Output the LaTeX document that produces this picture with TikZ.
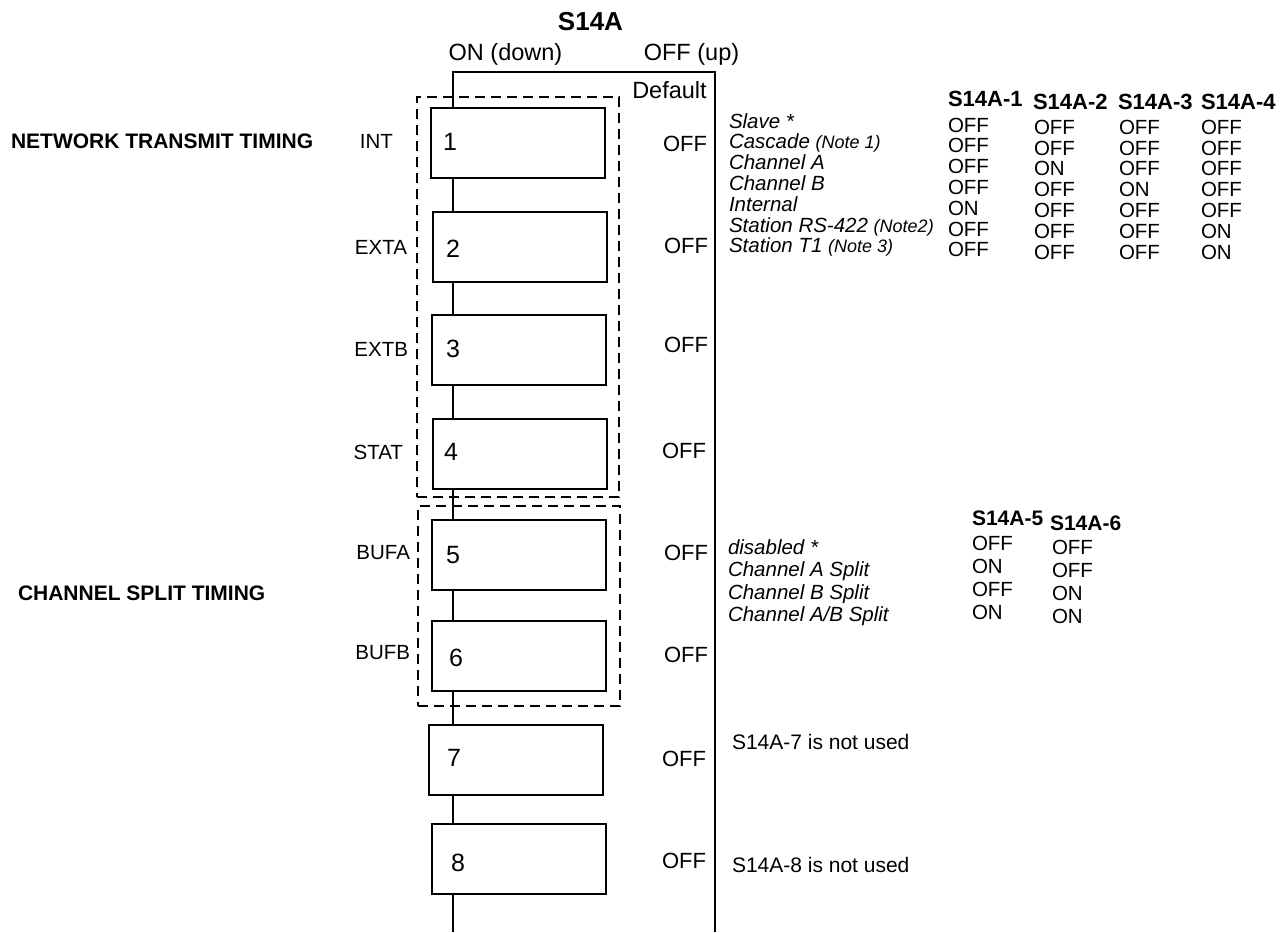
\documentclass[tikz,border=0pt]{standalone}
\usepackage{fontspec}
\setmainfont{Liberation Sans}
\newcommand{\fsz}[1]{\fontsize{#1}{#1}\selectfont}
\begin{document}
\begin{tikzpicture}[x=1pt,y=-1pt,
  ln/.style={line width=2pt},
  swbox/.style={draw, line width=2pt, fill=white, minimum width=174pt, minimum height=70pt, inner sep=0pt, outer sep=0pt},
  grp/.style={draw, line width=2pt, dash pattern=on 10pt off 6pt, inner sep=0pt, outer sep=0pt},
  txt/.style={inner sep=0pt, outer sep=0pt},
  dig/.style={txt, font=\fsz{25}},
  offr/.style={txt, anchor=base east, font=\fsz{22}},
  lft/.style={txt, anchor=east, font=\fsz{20.5}},
  sect/.style={txt, anchor=west, font=\fsz{21}\bfseries},
  hdr/.style={txt, anchor=west, font=\fsz{22}\bfseries},
  tval/.style={txt, anchor=base west, font=\fsz{20.5}},
  tlab/.style={txt, anchor=base west, font=\fsz{20.5}\itshape},
  top/.style={txt, anchor=base, font=\fsz{23.5}}
]
\useasboundingbox (0,0) rectangle (1287,932);

% dashed groups
\node[grp, minimum width=202pt, minimum height=400pt] (g1) at (518,297) {};
\node[grp, minimum width=202pt, minimum height=200pt] (g2) at (519,606) {};

% frame and spine
\coordinate (sp) at (453,72);
\coordinate (spb) at (453,932);
\coordinate (fr) at (715,72);
\coordinate (frb) at (715,932);

% switch boxes
\node[swbox] (b1) at (517.5,143) {};
\node[swbox] (b2) at (519.5,246.5) {};
\node[swbox] (b3) at (519,349.5) {};
\node[swbox] (b4) at (520,453.5) {};
\node[swbox] (b5) at (519,554.5) {};
\node[swbox] (b6) at (518.5,656) {};
\node[swbox] (b7) at (515.5,760) {};
\node[swbox] (b8) at (519,859) {};

\draw[ln] (frb) -- (fr) -- (sp) -- (sp |- b1.north);
\draw[ln] (sp |- b1.south) -- (sp |- b2.north);
\draw[ln] (sp |- b2.south) -- (sp |- b3.north);
\draw[ln] (sp |- b3.south) -- (sp |- b4.north);
\draw[ln] (sp |- b4.south) -- (sp |- b5.north);
\draw[ln] (sp |- b5.south) -- (sp |- b6.north);
\draw[ln] (sp |- b6.south) -- (sp |- b7.north);
\draw[ln] (sp |- b7.south) -- (sp |- b8.north);
\draw[ln] (sp |- b8.south) -- (spb);

% digits
\node[dig] (d1) at (450,142) {1};
\node[dig] (d2) at (453,249) {2};
\node[dig] (d3) at (453,349) {3};
\node[dig] (d4) at (451,452) {4};
\node[dig] (d5) at (453,555) {5};
\node[dig] (d6) at (456,658) {6};
\node[dig] (d7) at (454,758) {7};
\node[dig] (d8) at (458,863) {8};

% header
\node[txt, anchor=base, font=\fsz{26}\bfseries] (title) at (590.5,30.5) {S14A};
\node[top] (on) at (505.5,60.5) {ON (down)};
\node[top] (off) at (691.5,60.5) {OFF (up)};
\node[top] (def) at (669.5,98) {Default};

% default OFF column
\node[offr] (o1) at (707,151) {OFF};
\node[offr] (o2) at (708,253) {OFF};
\node[offr] (o3) at (708,352) {OFF};
\node[offr] (o4) at (706,458) {OFF};
\node[offr] (o5) at (708,560) {OFF};
\node[offr] (o6) at (708,662) {OFF};
\node[offr] (o7) at (706,766) {OFF};
\node[offr] (o8) at (706,868) {OFF};

% left labels
\node[lft] (lint) at (393,141) {INT};
\node[lft] (lexta) at (407,247) {EXTA};
\node[lft] (lextb) at (408,349) {EXTB};
\node[lft] (lstat) at (403,452) {STAT};
\node[lft] (lbufa) at (410,553) {BUFA};
\node[lft] (lbufb) at (410,653) {BUFB};

\node[sect] (ntt) at (11,141) {NETWORK TRANSMIT TIMING};
\node[sect] (cst) at (18,593) {CHANNEL SPLIT TIMING};

% table 1
\node[hdr] (h1) at (948,99) {S14A-1};
\node[hdr] (h2) at (1033,102) {S14A-2};
\node[hdr] (h3) at (1118,102) {S14A-3};
\node[hdr] (h4) at (1201,102) {S14A-4};
\foreach \lab [count=\i from 0] in {Slave *,Cascade {\fsz{18}(Note 1)},Channel A,Channel B,Internal,Station RS-422 {\fsz{18}(Note2)},Station T1 {\fsz{18}(Note 3)}}
  \node[tlab] (ta\i) at (729,{128+20.8*\i}) {\lab};
\foreach \v [count=\i from 0] in {OFF,OFF,OFF,OFF,ON,OFF,OFF}
  \node[tval] (tb\i) at (948,{132+20.8*\i}) {\v};
\foreach \v [count=\i from 0] in {OFF,OFF,ON,OFF,OFF,OFF,OFF}
  \node[tval] (tc\i) at (1034,{134.2+20.8*\i}) {\v};
\foreach \v [count=\i from 0] in {OFF,OFF,OFF,ON,OFF,OFF,OFF}
  \node[tval] (td\i) at (1119,{134.2+20.8*\i}) {\v};
\foreach \v [count=\i from 0] in {OFF,OFF,OFF,OFF,OFF,ON,ON}
  \node[tval] (te\i) at (1201,{134.2+20.8*\i}) {\v};

% table 2
\node[hdr, font=\fsz{21}\bfseries] (h5) at (972,518) {S14A-5};
\node[hdr, font=\fsz{21}\bfseries] (h6) at (1050,523) {S14A-6};
\foreach \lab [count=\i from 0] in {disabled *,Channel A Split,Channel B Split,Channel A/B Split}
  \node[tlab] (tf\i) at (728,{554+22.5*\i}) {\lab};
\foreach \v [count=\i from 0] in {OFF,ON,OFF,ON}
  \node[tval] (tg\i) at (972,{550+23*\i}) {\v};
\foreach \v [count=\i from 0] in {OFF,OFF,ON,ON}
  \node[tval] (th\i) at (1052,{554+23*\i}) {\v};

% notes
\node[txt, anchor=base west, font=\fsz{21}] (n7) at (732,749.5) {S14A-7 is not used};
\node[txt, anchor=base west, font=\fsz{21}] (n8) at (732,872.5) {S14A-8 is not used};
\end{tikzpicture}
\end{document}
